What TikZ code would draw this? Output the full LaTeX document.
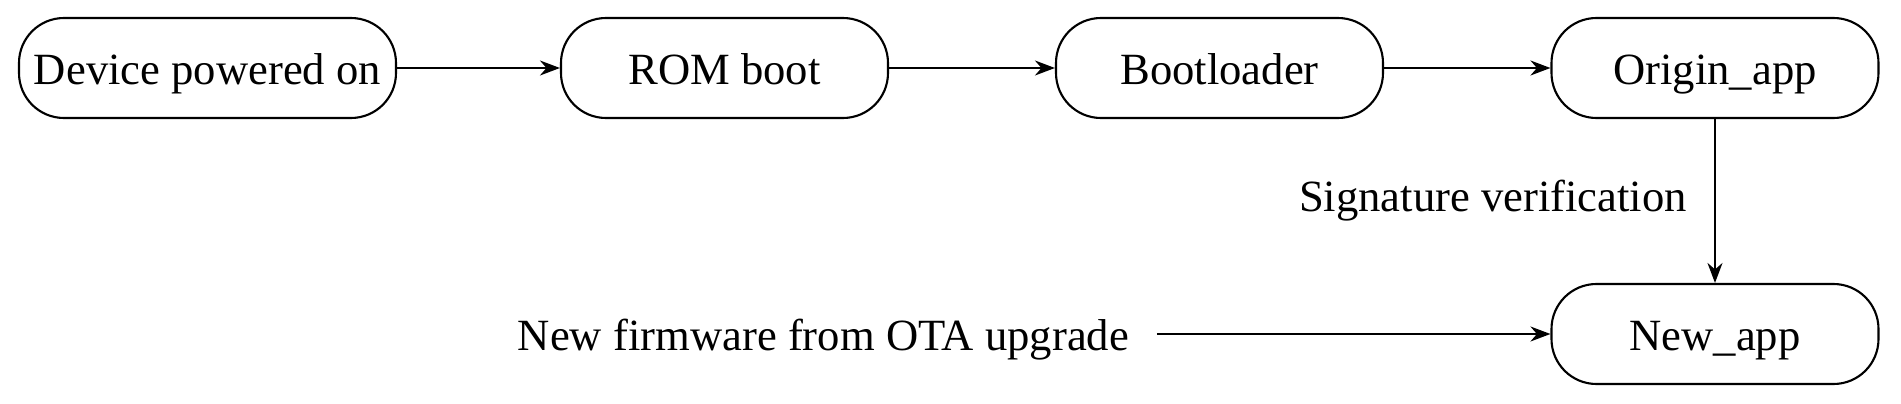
\documentclass[tikz,border=0pt]{standalone}
\usepackage{fontspec}
\setmainfont{Liberation Serif}
\usetikzlibrary{arrows.meta}

\begin{document}
\begin{tikzpicture}[auto,
                    state_style/.style={draw, rounded corners=0.45cm, minimum width=3.27cm,
                                        minimum height=1cm, inner sep=2pt, line width=0.6pt,
                                        text height=0.36cm, text depth=0.02cm,
                                        font=\fontsize{12.7}{15}\selectfont},
                    edge_style/.style={-{Stealth[length=0.2cm,width=0.15cm]}, draw=black, line width=0.6pt},
                    txt/.style={font=\fontsize{12.7}{15}\selectfont, inner sep=0pt}
   ]
   \useasboundingbox (0,0) rectangle (19.01,4.04);
   % Boot chain
   \node[state_style, minimum width=3.77cm] (dev) at (2.075,3.36) {Device powered on};
   \node[state_style] (rom) at (7.245,3.36) {ROM boot};
   \node[state_style] (boot) at (12.195,3.36) {Bootloader};
   \node[state_style] (orig) at (17.15,3.36) {Origin\_app};
   \node[state_style] (new) at (17.15,0.70) {New\_app};
   % Upgrade source
   \node[txt, text height=0.36cm, text depth=0.02cm] (ota) at (8.235,0.70) {New firmware from OTA upgrade};

    \draw[edge_style]  (dev) edge (rom);
    \draw[edge_style]  (rom) edge (boot);
    \draw[edge_style]  (boot) edge (orig);
    \draw[edge_style]  (orig) edge node[txt, swap, left=0.27cm]{Signature verification} (new);
    \draw[edge_style, shorten <=0.27cm]  (ota) edge (new);
    \end{tikzpicture}
\end{document}
